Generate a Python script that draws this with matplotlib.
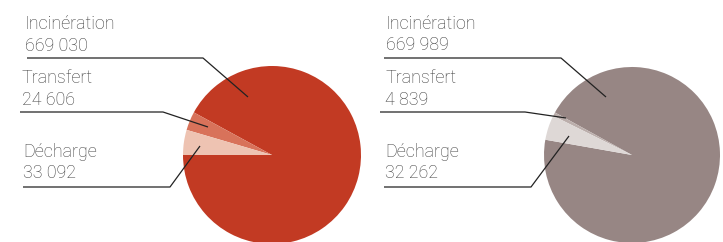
import matplotlib
matplotlib.use("Agg")
import matplotlib.pyplot as plt

categories = ["Incinération", "Transfert", "Décharge"]
left_values = [669030, 24606, 33092]
right_values = [669989, 4839, 32262]
left_labels = ["669 030", "24 606", "33 092"]
right_labels = ["669 989", "4 839", "32 262"]

left_colors = ["#C23A23", "#D8725A", "#EEC3B2"]
right_colors = ["#978684", "#BBAEAB", "#DED8D6"]

W, H = 723, 242
fig = plt.figure(figsize=(W / 100, H / 100), dpi=100)
ax = fig.add_axes([0, 0, 1, 1])

def Y(yp):
    return H - yp

ax.pie(left_values, colors=left_colors, startangle=180, counterclock=True,
       center=(272, Y(155)), radius=89, wedgeprops=dict(linewidth=0))
ax.pie(right_values, colors=right_colors, startangle=170, counterclock=True,
       center=(632, Y(155)), radius=88, wedgeprops=dict(linewidth=0))

ax.set_xlim(0, W)
ax.set_ylim(0, H)
ax.set_aspect("equal")
ax.axis("off")

font = dict(family=["Roboto", "Liberation Sans"], weight="light", fontsize=12.9, color="#3c3c3c")

# label layout: (text x, label baseline, value baseline, underline y, underline x0, x1, leader end)
left_layout = [
    (25, 29, 51, 58, 27, 203, (248, 97)),
    (22, 83, 105, 112, 20, 163, (208, 127)),
    (23, 157, 178, 187, 23, 170, (200, 146)),
]
right_layout = [
    (386, 29, 50, 58, 384, 561, (606, 97)),
    (385, 83, 105, 112, 380, 525, (566, 118)),
    (385, 157, 178, 187, 384, 531, (569, 136)),
]

for cats, labels, layout in [(categories, left_labels, left_layout),
                             (categories, right_labels, right_layout)]:
    for cat, lab, (tx, yb1, yb2, uy, ux0, ux1, end) in zip(cats, labels, layout):
        ax.text(tx, Y(yb1), cat, va="baseline", ha="left", **font)
        ax.text(tx, Y(yb2), lab, va="baseline", ha="left", **font)
        ax.plot([ux0, ux1, end[0]], [Y(uy), Y(uy), Y(end[1])],
                color="#222222", lw=0.9, solid_capstyle="butt")

fig.savefig("out.png", dpi=100)
